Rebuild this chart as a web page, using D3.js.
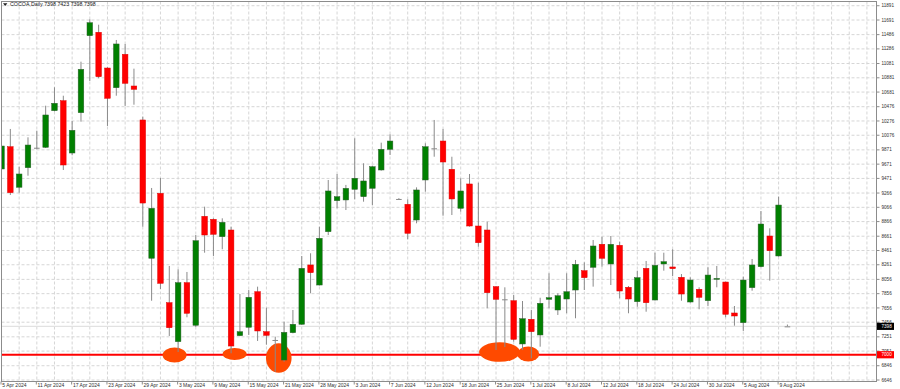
<!DOCTYPE html>
<html>
<head>
<meta charset="utf-8">
<script src="https://cdn.jsdelivr.net/npm/d3@7"></script>
<style>
  body { margin: 0; background: #fff; }
  svg { display: block; }
</style>
</head>
<body>
<div id="chart"></div>
<script>
// chart size and plot frame
const width = 900;
const height = 389;
const frame = {left: 1.5, right: 876.5, top: 1.5, bottom: 381.5};

// header text
const symbolTitle = "COCOA,Daily 7398 7423 7398 7398";

// daily candles, one entry per bar (5 Apr 2024 .. 9 Aug 2024 + current bar)
const opens = [9603,9915,9347,9621,9901,9907,10420,10560,9827,10392,11471,11519,11018,10742,11210,10766,10290,8352,9262,7729,
  7183,8010,7413,8940,8898,8654,8748,7267,7385,7883,7323,7207,6926,7309,7427,8258,7977,8724,9159,9169,
  9318,9215,9332,9589,9879,9183,9108,8888,9449,9893,9995,9599,9052,9393,8804,8748,7954,7777,7757,7151,
  7497,7277,7777,7627,7781,7907,8178,8225,8548,8272,8534,7945,7743,8211,7767,8272,8230,8085,7739,7917,
  7757,8060,8019,7585,7449,7940,8234,8664,8384,7398];
const highs = [9953,10164,9635,10047,10140,10490,10748,10630,10276,11107,11701,11625,11030,11411,11355,11009,10336,9337,9477,8244,
  8197,8160,8678,9075,8912,8912,8794,7851,7907,7954,7659,7253,7463,7627,8384,8422,8794,9449,9533,9380,
  10033,9683,9650,9972,10089,9195,9178,9346,9963,10290,10164,9775,9473,9533,9411,8864,7960,7945,7837,7753,
  7627,7799,8141,7861,8141,8328,8295,8608,8654,8664,8584,7963,8178,8314,8430,8430,8478,8131,8085,7945,
  8225,8244,8025,7683,8094,8342,9014,8772,9215,7423];
const lows = [9477,9239,9271,9509,9879,9897,10410,9589,9795,10266,10836,10874,10206,10630,10486,10504,8794,7757,7921,7263,
  7038,7525,7389,8430,8384,8478,7020,7260,7277,7193,7141,6762,6902,7300,7420,7861,7970,8678,9052,9028,
  9178,9145,9094,9580,9799,9183,8618,8842,9285,9775,8948,8958,9005,8795,8514,7651,7066,7108,7183,7066,
  6950,7113,7651,7557,7581,7511,7907,7954,8234,7977,7791,7581,7673,7603,7760,8178,8103,7757,7730,7637,
  7683,7945,7525,7407,7333,7897,8225,8038,8375,7398];
const closes = [9925,9271,9533,9939,9901,10360,10524,9659,10145,11000,11653,10896,10594,11355,10804,10720,9126,9052,8001,7379,
  8010,7581,8598,8678,8688,8856,7122,7323,7805,7333,7272,7207,7314,7427,8211,8150,8632,9295,9215,9332,
  9473,9435,9635,9879,9995,9183,8702,9309,9915,9893,9701,9183,9295,8804,8570,7869,7777,7777,7216,7505,
  7323,7721,7799,7827,7883,8267,8080,8524,8352,8548,7893,7781,8080,7729,8253,8304,8206,7851,8047,7805,
  8117,8070,7567,7543,8047,8258,8832,8458,9098,7398];

// price scale labels
const priceTicks = [11891,11691,11486,11286,11081,10881,10681,10476,10276,10076,9871,9671,9471,9266,
  9066,8866,8661,8461,8261,8056,7856,7656,7456,7251,7051,6846,6646];

// time scale labels, every 4th bar
const dateLabels = ["5 Apr 2024","11 Apr 2024","17 Apr 2024","23 Apr 2024","29 Apr 2024","3 May 2024",
  "9 May 2024","15 May 2024","21 May 2024","28 May 2024","3 Jun 2024","7 Jun 2024","12 Jun 2024",
  "18 Jun 2024","25 Jun 2024","1 Jul 2024","8 Jul 2024","12 Jul 2024","18 Jul 2024","24 Jul 2024",
  "30 Jul 2024","5 Aug 2024","9 Aug 2024"];
const dateBars = d3.range(0, 89, 4);

// support line, bid line and marked touches of the support
const supportLevel = 7000;
const bidPrice = 7398;
const zoneBars = [19.6, 26.4, 31.4, 56.4, 59.65];
const zonePrices = [6996, 7010, 6954, 7038, 7010];

const bullColor = "#008000";
const bearColor = "#ff0000";
const wickColor = "#8a8a8a";
const gridColor = "#d6d6d6";

const svg = d3.select("#chart")
  .append("svg")
  .attr("width", width)
  .attr("height", height)
  .style("font-family", "'Liberation Sans', Arial, sans-serif");

// scales
const x = d3.scaleLinear()
  .domain([0, 88])
  .range([1.5, 778.6]);

const y = d3.scaleLinear()
  .domain([6646, 11691])
  .range([380, 20]);

svg.append("defs").append("clipPath")
  .attr("id", "plot-clip")
  .append("rect")
    .attr("x", frame.left)
    .attr("y", frame.top)
    .attr("width", frame.right - frame.left)
    .attr("height", frame.bottom - frame.top);

const plot = svg.append("g").attr("clip-path", "url(#plot-clip)");

// grid lines
plot.append("g")
  .selectAll("line")
  .data(priceTicks)
  .enter()
  .append("line")
    .attr("x1", frame.left)
    .attr("x2", frame.right)
    .attr("y1", d => y(d))
    .attr("y2", d => y(d))
    .attr("stroke", gridColor)
    .attr("stroke-dasharray", "3,2");

plot.append("g")
  .selectAll("line")
  .data(d3.range(0, 100, 2))
  .enter()
  .append("line")
    .attr("x1", d => x(d))
    .attr("x2", d => x(d))
    .attr("y1", frame.top)
    .attr("y2", frame.bottom)
    .attr("stroke", gridColor)
    .attr("stroke-dasharray", "3,2");

// bid line
plot.append("line")
  .attr("x1", frame.left)
  .attr("x2", frame.right)
  .attr("y1", y(bidPrice))
  .attr("y2", y(bidPrice))
  .attr("stroke", "#e2e2e2")
  .attr("stroke-width", 1.2);

// support line
plot.append("line")
  .attr("x1", frame.left)
  .attr("x2", frame.right)
  .attr("y1", y(supportLevel))
  .attr("y2", y(supportLevel))
  .attr("stroke", "#ff0000")
  .attr("stroke-width", 2);

// orange marks on the support touches (radius in px)
const zoneRx = [12, 12, 12.8, 20.5, 11];
const zoneRy = [7.5, 6, 14.7, 9.7, 7.5];
plot.append("g")
  .selectAll("ellipse")
  .data(zoneBars)
  .enter()
  .append("ellipse")
    .attr("cx", d => x(d))
    .attr("cy", (d, i) => y(zonePrices[i]))
    .attr("rx", (d, i) => zoneRx[i])
    .attr("ry", (d, i) => zoneRy[i])
    .attr("fill", "#ff4a00");

// candles
const bars = plot.append("g")
  .selectAll("g")
  .data(opens)
  .enter()
  .append("g");

bars.append("line")
  .attr("x1", (d, i) => x(i))
  .attr("x2", (d, i) => x(i))
  .attr("y1", (d, i) => y(highs[i]))
  .attr("y2", (d, i) => y(lows[i]))
  .attr("stroke", wickColor)
  .attr("stroke-width", 1);

const bodyWidth = 5.6;
bars.append("rect")
  .attr("x", (d, i) => x(i) - bodyWidth / 2)
  .attr("y", (d, i) => y(Math.max(d, closes[i])))
  .attr("width", bodyWidth)
  .attr("height", (d, i) => Math.max(Math.abs(y(d) - y(closes[i])), 1))
  .attr("fill", (d, i) => closes[i] > d ? bullColor : closes[i] < d ? bearColor : wickColor)
  .attr("stroke", (d, i) => closes[i] > d ? "#2f5f2f" : closes[i] < d ? "#e00000" : "none")
  .attr("stroke-width", 0.5);

// frame
svg.append("rect")
  .attr("x", frame.left)
  .attr("y", frame.top)
  .attr("width", frame.right - frame.left)
  .attr("height", frame.bottom - frame.top)
  .attr("fill", "none")
  .attr("stroke", "#8c8c8c")
  .attr("stroke-width", 1);

// price scale
const priceAxis = svg.append("g");
priceAxis.selectAll("line")
  .data(priceTicks)
  .enter()
  .append("line")
    .attr("x1", frame.right)
    .attr("x2", frame.right + 3)
    .attr("y1", d => y(d))
    .attr("y2", d => y(d))
    .attr("stroke", "#8c8c8c");

priceAxis.selectAll("text")
  .data(priceTicks)
  .enter()
  .append("text")
    .attr("x", frame.right + 5)
    .attr("y", d => y(d) + 1.6)
    .attr("font-size", "4.6px")
    .attr("fill", "#303030")
    .text(d => d);

// price boxes for bid and support
const boxes = [{price: bidPrice, color: "#000000"}, {price: supportLevel, color: "#ff0000"}];
boxes.forEach(b => {
  svg.append("rect")
    .attr("x", frame.right + 0.5)
    .attr("y", y(b.price) - 3.6)
    .attr("width", 17)
    .attr("height", 7.2)
    .attr("fill", b.color);
  svg.append("text")
    .attr("x", frame.right + 5)
    .attr("y", y(b.price) + 1.6)
    .attr("font-size", "4.6px")
    .attr("fill", "#fff")
    .text(b.price);
});

// time scale
const timeAxis = svg.append("g");
timeAxis.selectAll("line")
  .data(dateBars)
  .enter()
  .append("line")
    .attr("x1", d => x(d) - 0.5)
    .attr("x2", d => x(d) - 0.5)
    .attr("y1", frame.bottom)
    .attr("y2", frame.bottom + 3)
    .attr("stroke", "#8c8c8c");

timeAxis.selectAll("text")
  .data(dateBars)
  .enter()
  .append("text")
    .attr("x", d => x(d) + 0.8)
    .attr("y", frame.bottom + 5.8)
    .attr("font-size", "5px")
    .attr("fill", "#303030")
    .text((d, i) => dateLabels[i]);

// header
svg.append("path")
  .attr("d", "M3,3.2 L7.4,3.2 L5.2,6 Z")
  .attr("fill", "#202020");

svg.append("text")
  .attr("x", 10)
  .attr("y", 6.4)
  .attr("font-size", "5.3px")
  .attr("fill", "#202020")
  .text(symbolTitle);
</script>
</body>
</html>
